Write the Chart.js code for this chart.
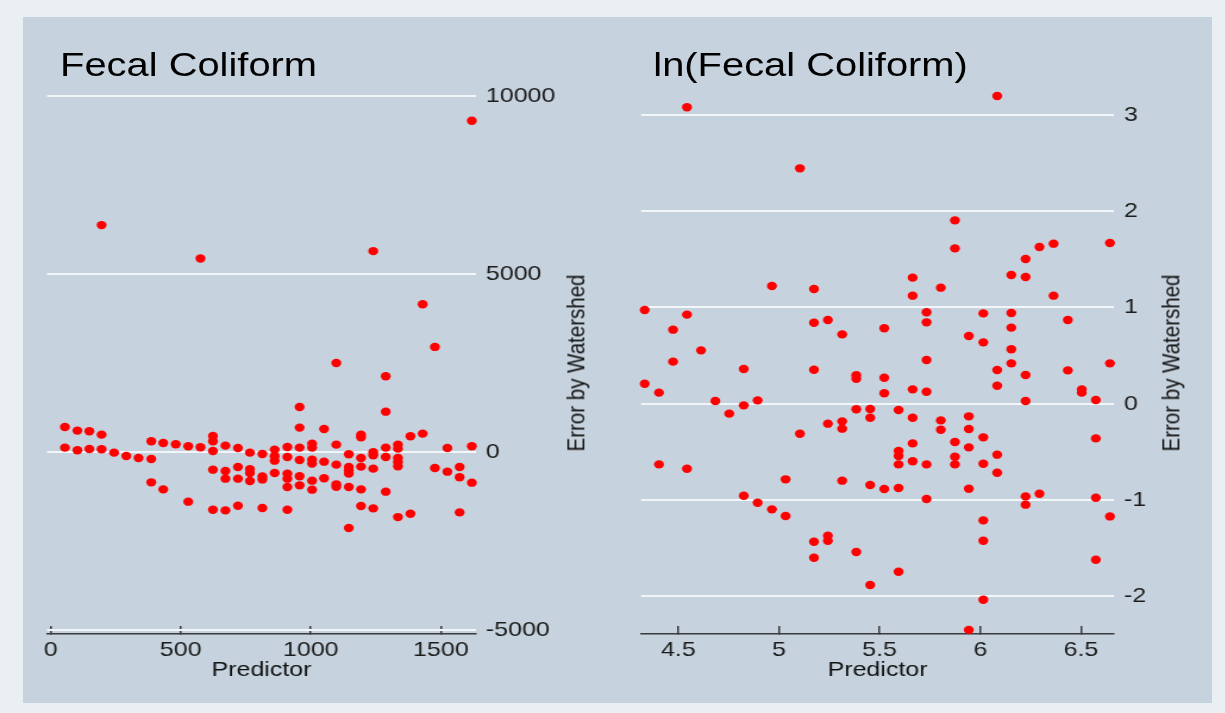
<!DOCTYPE html>
<html>
<head>
<meta charset="utf-8">
<title>Error by Watershed</title>
<script src="https://cdn.jsdelivr.net/npm/chart.js@4/dist/chart.umd.min.js"></script>
<style>
  html, body { margin: 0; padding: 0; }
  body {
    width: 1225px; height: 713px; position: relative; overflow: hidden;
    background: #e9eff2;
    font-family: "Liberation Sans", Arial, sans-serif;
  }
  #panel { position: absolute; left: 23px; top: 17px; width: 1189px; height: 686px; background: #c6d2dd; }
  /* the whole figure is drawn 1030 wide and stretched to the page width */
  #wrap { position: absolute; left: 0; top: 0; width: 1030px; height: 713px; transform: scaleX(1.19); transform-origin: 0 0; }
  #wrap canvas { position: absolute; left: 0; top: 0; }
  .title { position: absolute; top: 47.6px; font-size: 33.5px; line-height: 33.5px; color: #000; white-space: nowrap; }
  .ytitle {
    position: absolute; top: 362.5px; font-size: 20.5px; line-height: 20.5px; color: #111; white-space: nowrap;
    transform: translate(-50%, -50%) rotate(-90deg);
  }
</style>
</head>
<body>
<div id="panel"></div>
<div id="wrap">
  <canvas id="fecalChart" width="1030" height="713"></canvas>
  <canvas id="lnChart" width="1030" height="713"></canvas>
  <div class="title" style="left:50.5px">Fecal Coliform</div>
  <div class="title" style="left:549px">ln(Fecal Coliform)</div>
  <div class="ytitle" style="left:484.3px">Error by Watershed</div>
  <div class="ytitle" style="left:983.5px">Error by Watershed</div>
</div>
<script>
// Fecal coliform: predictor vs. error by watershed
const fecalX = [
  55, 55, 103, 103, 149, 149, 196, 196, 196, 244, 291, 338,
  387, 387, 387, 433, 433, 481, 529, 529, 576, 576,
  624, 624, 624, 624, 624, 672, 672, 672, 672, 720, 720, 720, 720,
  766, 766, 766, 766, 814, 814, 814, 814, 861, 861, 861, 861,
  910, 910, 910, 910, 910, 910, 957, 957, 957, 957, 957, 957,
  1005, 1005, 1005, 1005, 1005, 1005, 1051, 1051, 1051,
  1098, 1098, 1098, 1098, 1098, 1146, 1146, 1146, 1146, 1146, 1146,
  1193, 1193, 1193, 1193, 1193, 1193, 1240, 1240, 1240, 1240, 1240,
  1288, 1288, 1288, 1288, 1288, 1335, 1335, 1335, 1335, 1335, 1335,
  1383, 1383, 1430, 1430, 1477, 1477, 1525, 1525,
  1572, 1572, 1572, 1619, 1619, 1619
];
const fecalY = [
  704, 123, 601, 48, 581, 85, 6373, 488, 76, -18, -111, -168,
  301, -196, -852, 254, -1049, 216, 160, -1395, 5437, 132,
  451, 301, 29, -496, -1621, 179, -534, -749, -1640, 113, -421, -749, -1508,
  -18, -480, -589, -814, -55, -690, -770, -1574, 67, -121, -243, -589,
  141, -140, -608, -749, -983, -1621, 1266, 685, 123, -224, -683, -936,
  235, 123, -214, -326, -805, -1058, 647, -271, -739,
  2502, 207, -355, -908, -974, -65, -421, -515, -608, -983, -2135,
  488, 413, -168, -411, -1049, -1517, 5642, -8, -93, -467, -1583,
  2128, 1133, 123, -140, -1114, 207, 95, -168, -280, -402, -1828,
  441, -1734, 4152, 516, 2952, -449, 113, -552,
  -421, -711, -1696, 9306, 160, -861
];
const fecalXTicks = [0, 500, 1000, 1500];
const fecalYTicks = [-5000, 0, 5000, 10000];

// ln(fecal coliform): predictor vs. error by watershed
const lnX = [
  4.333, 4.333, 4.404, 4.404, 4.474, 4.474, 4.543, 4.543, 4.543,
  4.613, 4.684, 4.753, 4.825, 4.825, 4.825, 4.894, 4.894, 4.965, 4.965,
  5.033, 5.033, 5.104, 5.104, 5.174, 5.174, 5.174, 5.174, 5.174,
  5.243, 5.243, 5.243, 5.243, 5.314, 5.314, 5.314, 5.314,
  5.384, 5.384, 5.384, 5.384, 5.453, 5.453, 5.453, 5.453,
  5.523, 5.523, 5.523, 5.523, 5.594, 5.594, 5.594, 5.594, 5.594, 5.594,
  5.664, 5.664, 5.664, 5.664, 5.664, 5.664, 5.733, 5.733, 5.733, 5.733, 5.733, 5.733,
  5.804, 5.804, 5.804, 5.874, 5.874, 5.874, 5.874, 5.874,
  5.943, 5.943, 5.943, 5.943, 5.943, 5.943,
  6.015, 6.015, 6.015, 6.015, 6.015, 6.015, 6.015,
  6.084, 6.084, 6.084, 6.084, 6.084, 6.154, 6.154, 6.154, 6.154, 6.154,
  6.225, 6.225, 6.225, 6.225, 6.225, 6.225, 6.294, 6.294, 6.364, 6.364,
  6.435, 6.435, 6.504, 6.504, 6.574, 6.574, 6.574, 6.574, 6.644, 6.644, 6.644
];
const lnY = [
  0.973, 0.208, 0.115, -0.630, 0.769, 0.437, 3.078, 0.925, -0.675,
  0.554, 0.028, -0.103, 0.360, -0.017, -0.955, 0.035, -1.028, 1.222, -1.097,
  -0.785, -1.166, 2.444, -0.311, 1.191, 0.841, 0.353, -1.433, -1.599,
  0.869, -0.207, -1.370, -1.422, 0.720, -0.183, -0.259, -0.799,
  0.295, 0.260, -0.058, -1.540, -0.055, -0.145, -0.844, -1.883,
  0.783, 0.270, 0.108, -0.886, -0.065, -0.491, -0.543, -0.630, -0.875, -1.744,
  1.309, 1.122, 0.149, -0.145, -0.412, -0.598, 0.949, 0.845, 0.454, 0.125, -0.630, -0.990,
  1.205, -0.173, -0.270, 1.904, 1.613, -0.398, -0.550, -0.630,
  0.703, -0.131, -0.263, -0.453, -0.883, -2.350,
  0.938, 0.637, -0.349, -0.623, -1.211, -1.422, -2.035,
  3.195, 0.350, 0.187, -0.529, -0.716, 1.336, 0.942, 0.790, 0.565, 0.419,
  1.503, 1.316, 0.298, 0.028, -0.962, -1.048, 1.627, -0.934, 1.662, 1.122,
  0.869, 0.346, 0.149, 0.115, 0.038, -0.360, -0.976, -1.620, 1.669, 0.419, -1.170
];
const lnXTicks = [4.5, 5, 5.5, 6, 6.5];
const lnYTicks = [-2, -1, 0, 1, 2, 3];

Chart.defaults.font.family = '"Liberation Sans", Arial, sans-serif';
Chart.defaults.font.size = 21;
Chart.defaults.color = '#1c1c1c';

function makePanel(id, xs, ys, opts) {
    let points = xs.map((x, i) => ({ x: x, y: ys[i] }));
    return new Chart(document.getElementById(id), {
        type: 'scatter',
        data: {
            datasets: [{
                data: points,
                backgroundColor: '#ff0000',
                borderWidth: 0,
                pointRadius: 4.2,
                pointHoverRadius: 4.2,
                clip: false
            }]
        },
        options: {
            responsive: false,
            animation: false,
            devicePixelRatio: 1,
            events: [],
            layout: { padding: opts.padding },
            plugins: {
                legend: { display: false },
                tooltip: { enabled: false }
            },
            scales: {
                x: {
                    type: 'linear',
                    min: opts.xMin,
                    max: opts.xMax,
                    afterBuildTicks: s => { s.ticks = opts.xTicks.map(v => ({ value: v })) },
                    afterFit: s => { s.height = 79 },
                    // inward tick marks sitting on the axis line
                    grid: { drawOnChartArea: false, drawTicks: true, tickLength: -8, color: '#3a3a3a', lineWidth: 1.5 },
                    border: { display: true, color: '#3a3a3a', width: 1.5 },
                    ticks: { padding: 12, maxRotation: 0, autoSkip: false, callback: v => String(v) },
                    title: { display: true, text: 'Predictor', color: '#111', padding: { top: 0, bottom: 30 } }
                },
                y: {
                    type: 'linear',
                    position: 'right',
                    min: opts.yMin,
                    max: opts.yMax,
                    afterBuildTicks: s => { s.ticks = opts.yTicks.map(v => ({ value: v })) },
                    afterFit: s => { s.width = opts.yWidth },
                    grid: { color: '#f2f6f9', lineWidth: 2, drawTicks: false },
                    border: { display: false },
                    ticks: { padding: 8.3, autoSkip: false, callback: v => String(v) }
                }
            }
        }
    });
}

makePanel('fecalChart', fecalX, fecalY, {
    xMin: -13.8, xMax: 1635, yMin: -5112, yMax: 10000,
    xTicks: fecalXTicks, yTicks: fecalYTicks,
    yWidth: 100,
    padding: { left: 39.5, top: 96, right: 530, bottom: 0 }
});

makePanel('lnChart', lnX, lnY, {
    xMin: 4.315, xMax: 6.664, yMin: -2.391, yMax: 3.3,
    xTicks: lnXTicks, yTicks: lnYTicks,
    yWidth: 80,
    padding: { left: 538.7, top: 85.9, right: 13.9, bottom: 0 }
});
</script>
</body>
</html>
